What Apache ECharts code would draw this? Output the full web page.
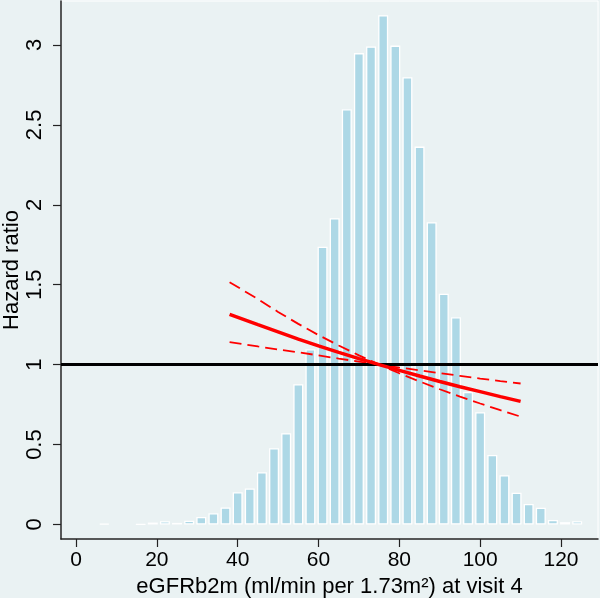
<!DOCTYPE html>
<html>
<head>
<meta charset="utf-8">
<script src="https://cdn.jsdelivr.net/npm/echarts@6/dist/echarts.min.js"></script>
<style>
html,body{margin:0;padding:0;background:#eaf2f3;}
#c{width:600px;height:598px;}
</style>
</head>
<body>
<div id="c"></div>
<script>
// Histogram bins (bin centres, width 3) and densities (scaled)
const binCenters = [7,16,19,22,25,28,31,34,37,40,43,46,49,52,55,58,61,64,67,70,73,76,79,82,85,88,91,94,97,100,103,106,109,112,115,118,121,124];
const binHeights = [0.005,0.002,0.012,0.02,0.01,0.024,0.047,0.071,0.106,0.202,0.225,0.327,0.477,0.571,0.877,1.097,1.738,1.916,2.598,2.949,2.99,3.186,2.996,2.798,2.364,1.891,1.444,1.297,0.83,0.702,0.435,0.308,0.199,0.128,0.105,0.028,0.015,0.02];

// Hazard ratio curve with 95% CI
const hrX     = [38,45,50,55,60,65,70,75,80,85,90,95,100,105,110];
const hrMid   = [1.315,1.25,1.205,1.16,1.118,1.077,1.038,1.0,0.964,0.929,0.895,0.862,0.831,0.80,0.77];
const hrUpper = [1.516,1.41,1.33,1.255,1.185,1.12,1.058,1.0,0.982,0.964,0.947,0.930,0.913,0.897,0.882];
const hrLower = [1.141,1.114,1.095,1.077,1.058,1.038,1.019,1.0,0.946,0.895,0.846,0.80,0.757,0.715,0.675];

const xTicks = [0,20,40,60,80,100,120];
const yTicks = [0,0.5,1,1.5,2,2.5,3];
const refLine = 1;

const zip = (a,b) => a.map((v,i)=>[v,b[i]]);
const font = "'Liberation Sans', Arial, Helvetica, sans-serif";

const chart = echarts.init(document.getElementById('c'), null, {renderer:'canvas'});
chart.setOption({
  animation:false,
  backgroundColor:'#eaf2f3',
  grid:{left:61,right:2,top:1,bottom:59,containLabel:false,outerBoundsMode:'none',
        show:true,backgroundColor:'#eaf2f3',borderColor:'#ffffff',borderWidth:1},
  xAxis:{
    type:'value', min:-3.711, max:129.15,
    splitLine:{show:false},
    axisLine:{show:true,onZero:false,lineStyle:{color:'#222',width:1.5}},
    axisTick:{show:true,length:8,customValues:xTicks,lineStyle:{color:'#222',width:1.2}},
    axisLabel:{customValues:xTicks,color:'#000',fontSize:21,fontFamily:font,margin:11},
    name:'eGFRb2m (ml/min per 1.73m²) at visit 4',
    nameLocation:'middle', nameGap:34,
    nameTextStyle:{color:'#000',fontSize:22,fontFamily:font}
  },
  yAxis:{
    type:'value', min:-0.0907, max:3.275,
    splitLine:{show:false},
    axisLine:{show:true,onZero:false,lineStyle:{color:'#222',width:1.5}},
    axisTick:{show:true,length:8,customValues:yTicks,lineStyle:{color:'#222',width:1.2}},
    axisLabel:{customValues:yTicks,color:'#000',fontSize:22,fontFamily:font,rotate:90,margin:15},
    name:'Hazard ratio',
    nameLocation:'middle', nameGap:38, nameMoveOverlap:false,
    nameTextStyle:{color:'#000',fontSize:22,fontFamily:font}
  },
  series:[
    {
      type:'bar', data:zip(binCenters,binHeights), barWidth:10,
      itemStyle:{color:'#add8e6',borderColor:'#ffffff',borderWidth:1.3},
      z:2, silent:true
    },
    {
      type:'line', data:[], z:3,
      markLine:{silent:true,symbol:'none',label:{show:false},
        lineStyle:{color:'#000',width:3,type:'solid'},
        data:[{yAxis:refLine}]}
    },
    {
      type:'line', data:zip(hrX,hrUpper), showSymbol:false, symbol:'none', z:4,
      lineStyle:{color:'#ff0000',width:1.8,type:[12,6]}
    },
    {
      type:'line', data:zip(hrX,hrLower), showSymbol:false, symbol:'none', z:4,
      lineStyle:{color:'#ff0000',width:1.8,type:[12,6]}
    },
    {
      type:'line', data:zip(hrX,hrMid), showSymbol:false, symbol:'none', z:5,
      lineStyle:{color:'#ff0000',width:3.5}
    }
  ]
});
</script>
</body>
</html>
